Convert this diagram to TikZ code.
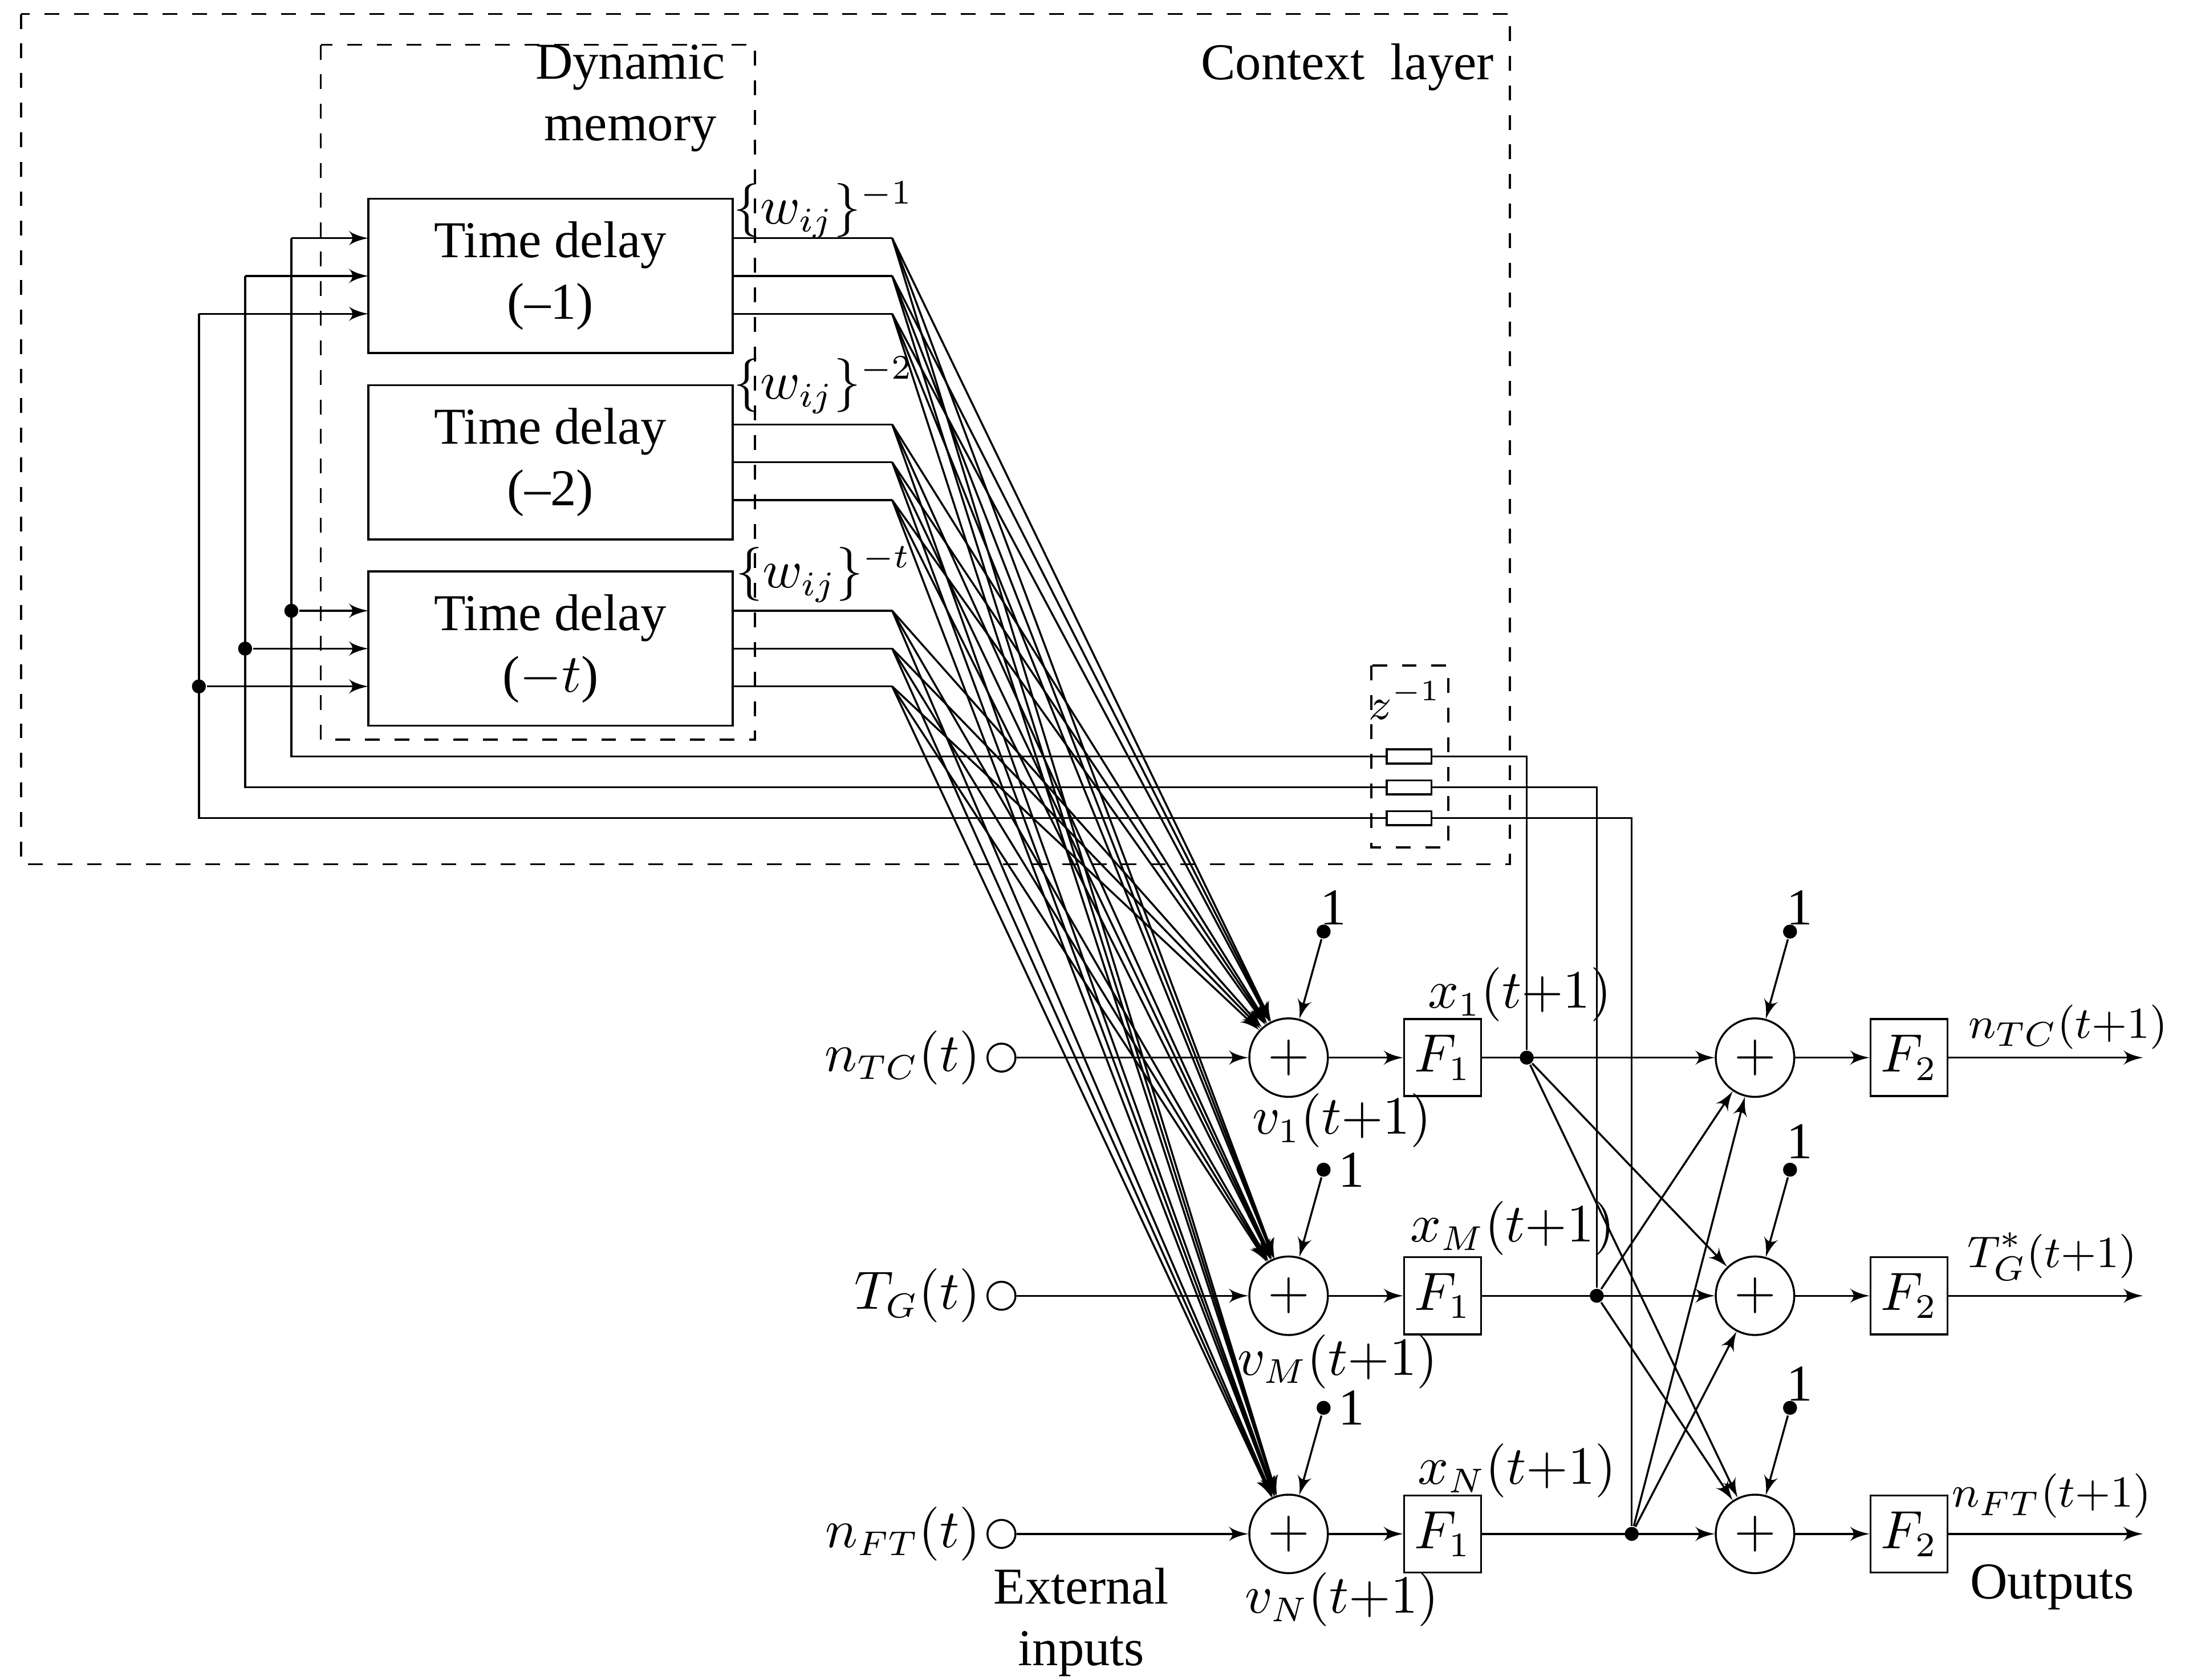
\documentclass[tikz,border=0pt]{standalone}
\usepackage{fontspec}
\setmainfont{Liberation Serif}
\usetikzlibrary{arrows}

\tikzset{
  sum/.style={draw,circle,minimum size=0.56cm,inner sep=0pt},
  inp/.style={draw,circle,minimum size=0.2cm,inner sep=0pt},
  fbox/.style={draw,minimum width=0.55cm,minimum height=0.55cm,inner sep=0pt},
  delay/.style={draw,minimum width=2.6cm,minimum height=1.1cm,align=center,inner sep=0pt},
  dot/.style={circle,fill,inner sep=0pt,minimum size=0.1cm},
  zbox/.style={draw,minimum width=0.32cm,minimum height=0.1cm,inner sep=0pt},
  outlbl/.style={anchor=east,inner sep=1pt,font=\fontsize{9.5}{11}\selectfont}
}

\begin{document}
\begin{tikzpicture}[x=0.01cm,y=-0.01cm,>=latex',thin,font=\fontsize{10.5}{12.5}\selectfont]
\useasboundingbox (0,0) rectangle (1560,1199);
% layers
\draw[dashed] (15,10) rectangle (1078,617);
\draw[dashed] (229,32) rectangle (539,528);
\draw[dashed] (979,475) rectangle (1034,605);
\node (ctx) at (962,48) {Context\ \ layer};
\node[align=center] (dyn) at (450,70) {Dynamic\\memory};
\node (z) at (1003,500) {\small$z^{-1}$};
% time delays
\node[delay] (D1) at (393,197) {Time delay\\(--1)};
\node[delay] (D2) at (393,330) {Time delay\\(--2)};
\node[delay] (D3) at (393,463) {Time delay\\($-t$)};
\node (w1) at (588,150) {$\{w_{ij}\}^{-1}$};
\node (w2) at (588,275) {$\{w_{ij}\}^{-2}$};
\node (w3) at (588,410) {$\{w_{ij}\}^{-t}$};
% summing nodes
\node[sum] (S1) at (920,755) {$+$};
\node[sum] (S2) at (920,925) {$+$};
\node[sum] (S3) at (920,1095) {$+$};
\node[sum] (R1) at (1253,755) {$+$};
\node[sum] (R2) at (1253,925) {$+$};
\node[sum] (R3) at (1253,1095) {$+$};
\node[fbox] (F1) at (1030,755) {$F_1$};
\node[fbox] (F2) at (1030,925) {$F_1$};
\node[fbox] (F3) at (1030,1095) {$F_1$};
\node[fbox] (G1) at (1363,755) {$F_2$};
\node[fbox] (G2) at (1363,925) {$F_2$};
\node[fbox] (G3) at (1363,1095) {$F_2$};
% inputs
\node[inp] (I1) at (715,755) {};
\node[inp] (I2) at (715,925) {};
\node[inp] (I3) at (715,1095) {};
\node[anchor=east,inner sep=1pt] at (I1.west) {$n_{TC}(t)$};
\node[anchor=east,inner sep=1pt] at (I2.west) {$T_G(t)$};
\node[anchor=east,inner sep=1pt] at (I3.west) {$n_{FT}(t)$};
\node[align=center] (ext) at (772,1158) {External\\inputs};
\foreach \i in {1,2,3} \draw[->] (I\i) -- (S\i);
% weights fan
\foreach \y in {170,197,224,303,330,357,436,463,490} {
  \coordinate (a) at (523,\y);
  \coordinate (b) at (637,\y);
  \draw (a) -- (b);
  \foreach \s in {S1,S2,S3} \draw[->] (b) -- (\s);
}
% biases
\foreach \s/\lx/\ly in {S1/952/648,S2/965/835,S3/965/1005,R1/1285/648,R2/1285/815,R3/1285/988} {
  \node[dot] (b\s) at ([shift={(25,-90)}]\s) {};
  \draw[->] (b\s) -- (\s);
  \node at (\lx,\ly) {1};
}
% hidden layer
\foreach \i in {1,2,3} {
  \draw[->] (S\i) -- (F\i);
  \draw[->] (F\i) -- (R\i);
  \draw[->] (R\i) -- (G\i);
  \coordinate (o\i) at (1530,0);
  \draw[->] (G\i) -- (G\i -| o\i);
}
\node[dot] (h1) at (1090,755) {};
\node[dot] (h2) at (1140,925) {};
\node[dot] (h3) at (1165,1095) {};
\draw[->] (h1) -- (R2);
\draw[->] (h1) -- (R3);
\draw[->] (h2) -- (R1);
\draw[->] (h2) -- (R3);
\draw[->] (h3) -- (R1);
\draw[->] (h3) -- (R2);
\node at (958,800) {$v_1(t{+}1)$};
\node at (955,972) {$v_M(t{+}1)$};
\node at (958,1142) {$v_N(t{+}1)$};
\node at (1085,710) {$x_1(t{+}1)$};
\node at (1080,877) {$x_M(t{+}1)$};
\node at (1083,1050) {$x_N(t{+}1)$};
\node[outlbl] at (1552,733) {$n_{TC}(t{+}1)$};
\node[outlbl] at (1530,897) {$T^*_G(t{+}1)$};
\node[outlbl] at (1540,1068) {$n_{FT}(t{+}1)$};
\node (out) at (1465,1133) {Outputs};
% context feedback
\node[dot] (c1) at (208,436) {};
\node[dot] (c2) at (175,463) {};
\node[dot] (c3) at (142,490) {};
\draw (h1) -- (1090,540) -- (208,540) -- (208,170);
\draw (h2) -- (1140,562) -- (175,562) -- (175,197);
\draw (h3) -- (1165,584) -- (142,584) -- (142,224);
\draw[->] (208,170) -- (263,170);
\draw[->] (175,197) -- (263,197);
\draw[->] (142,224) -- (263,224);
\draw[->] (c1) -- (263,436);
\draw[->] (c2) -- (263,463);
\draw[->] (c3) -- (263,490);
\foreach \y in {540,562,584} \node[zbox,fill=white] at (1006,\y) {};
\end{tikzpicture}
\end{document}
